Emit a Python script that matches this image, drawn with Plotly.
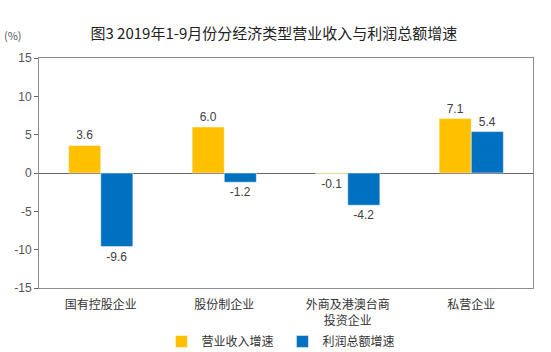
import plotly.graph_objects as go

categories = ["国有控股企业", "股份制企业", "外商及港澳台商<br>投资企业", "私营企业"]
revenue_growth = [3.6, 6.0, -0.1, 7.1]
profit_growth = [-9.6, -1.2, -4.2, 5.4]
series_names = ["营业收入增速", "利润总额增速"]
y_ticks = [-15, -10, -5, 0, 5, 10, 15]

FONT = "Noto Sans CJK SC"

fig = go.Figure()
fig.add_trace(go.Bar(
    x=categories, y=revenue_growth, name=series_names[0],
    marker=dict(color="#FFC000", line=dict(color="white", width=0.5)),
    text=[f"{v:.1f}" for v in revenue_growth], textposition="outside",
    textfont=dict(size=12, color="#404040", family="Liberation Sans"),
    cliponaxis=False,
))
fig.add_trace(go.Bar(
    x=categories, y=profit_growth, name=series_names[1],
    marker=dict(color="#0070C0", line=dict(color="white", width=0.5)),
    text=[f"{v:.1f}" for v in profit_growth], textposition="outside",
    textfont=dict(size=12, color="#404040", family="Liberation Sans"),
    cliponaxis=False,
))

fig.update_layout(
    width=551, height=352,
    margin=dict(l=39, r=18, t=58, b=64, autoexpand=False),
    paper_bgcolor="white", plot_bgcolor="white",
    barmode="group", bargap=0.48, bargroupgap=0,
    font=dict(family=FONT, size=12, color="#333333"),
    title=dict(text="图3 2019年1-9月份分经济类型营业收入与利润总额增速",
               x=0.497, xanchor="center", y=0.905, yanchor="middle",
               font=dict(size=15, color="#222222", family=FONT)),
    legend=dict(orientation="h", xref="container", yref="container",
                x=0.293, xanchor="left", y=0.03, yanchor="middle",
                bgcolor="rgba(0,0,0,0)",
                font=dict(size=12, color="#333333"), itemwidth=30,
                entrywidth=76, traceorder="normal"),
    showlegend=True,
)
fig.update_xaxes(
    showline=True, linecolor="#8c8c8c", linewidth=1, mirror=True,
    ticks="", tickfont=dict(size=12, color="#333333", family=FONT),
    ticklabelstandoff=6,
    showgrid=False, automargin=False,
)
fig.update_yaxes(
    range=[-15, 15], tickvals=y_ticks, ticktext=[str(v) for v in y_ticks],
    showline=True, linecolor="#8c8c8c", linewidth=1, mirror=True,
    ticks="outside", ticklen=4, tickcolor="#666666",
    tickfont=dict(size=12, color="#555555", family="Liberation Sans"),
    showgrid=False, zeroline=True, zerolinecolor="#666666", zerolinewidth=1,
    automargin=False,
)
fig.add_annotation(text="(%)", xref="paper", yref="paper", x=-0.075, y=1.055,
                   xanchor="left", yanchor="bottom", showarrow=False,
                   font=dict(size=11, color="#555555", family=FONT))

fig.write_html("out.html")
